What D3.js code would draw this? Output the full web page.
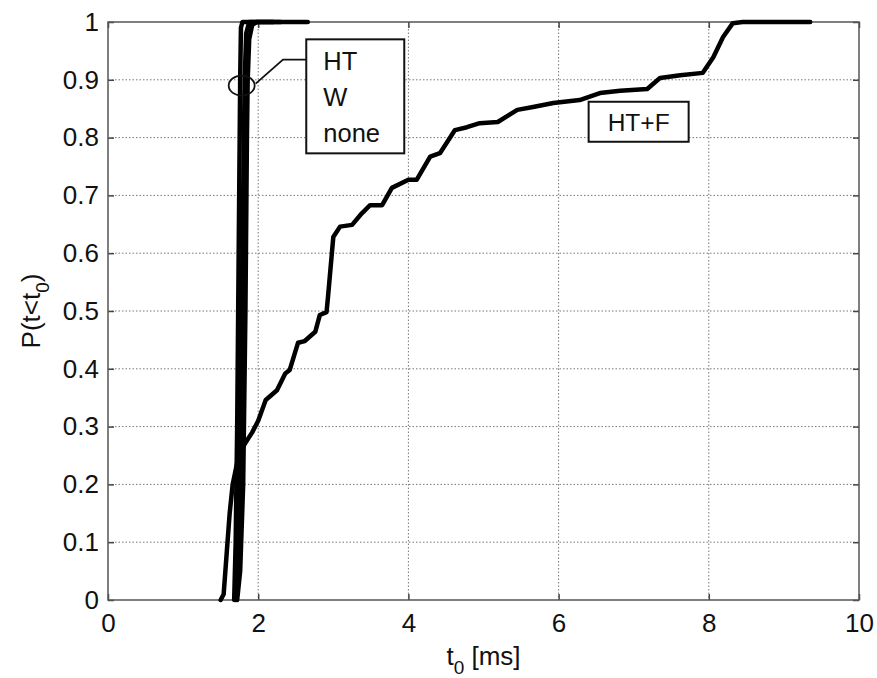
<!DOCTYPE html>
<html>
<head>
<meta charset="utf-8">
<script src="https://cdn.jsdelivr.net/npm/d3@7"></script>
<style>
  body { margin: 0; background: #fff; }
  svg text { font-family: "Liberation Sans", Arial, sans-serif; fill: #111; }
</style>
</head>
<body>
<svg id="chart" width="877" height="678"></svg>
<script>
// tick values
const xTicks = [0, 2, 4, 6, 8, 10];
const yTicks = [0, 0.1, 0.2, 0.3, 0.4, 0.5, 0.6, 0.7, 0.8, 0.9, 1];

// CDF curves, [t0 in ms, P]
const htf = [[1.50,0],[1.54,0.01],[1.58,0.08],[1.62,0.15],[1.66,0.2],[1.74,0.25],[1.82,0.27],[1.92,0.29],
  [2.0,0.31],[2.1,0.346],[2.25,0.363],[2.36,0.392],[2.42,0.398],[2.53,0.445],[2.62,0.448],[2.76,0.464],
  [2.82,0.493],[2.91,0.498],[2.93,0.525],[3.0,0.628],[3.09,0.646],[3.25,0.649],[3.38,0.669],[3.49,0.683],
  [3.65,0.683],[3.78,0.713],[4.0,0.727],[4.11,0.727],[4.29,0.767],[4.42,0.773],[4.62,0.813],[4.78,0.818],
  [4.95,0.825],[5.19,0.827],[5.45,0.848],[5.66,0.853],[5.93,0.86],[6.28,0.865],[6.55,0.877],[6.82,0.881],
  [7.18,0.884],[7.35,0.903],[7.62,0.908],[7.92,0.912],[8.06,0.939],[8.19,0.974],[8.32,0.998],[8.45,1.0],[9.35,1.0]];
const ht = [[1.68,0],[1.70,0.1],[1.72,0.3],[1.74,0.6],[1.76,0.9],[1.77,0.99],[1.79,1],[2.66,1]];
const w = [[1.70,0],[1.73,0.05],[1.75,0.2],[1.78,0.5],[1.81,0.8],[1.82,0.9],[1.84,0.98],[1.88,1],[2.3,1]];
const none = [[1.72,0],[1.76,0.05],[1.80,0.2],[1.83,0.5],[1.85,0.8],[1.86,0.9],[1.88,0.97],[1.92,0.995],[1.98,1],[2.2,1]];

const legendNames = ['HT', 'W', 'none'];
const htfLabel = 'HT+F';

const svg = d3.select('#chart');
const margin = { top: 22, right: 18, bottom: 78, left: 108 };
const width = 877 - margin.left - margin.right;
const height = 678 - margin.top - margin.bottom;

const x = d3.scaleLinear().domain([0, 10]).range([0, width]);
const y = d3.scaleLinear().domain([0, 1]).range([height, 0]);

const g = svg.append('g').attr('transform', `translate(${margin.left},${margin.top})`);

// grid
g.append('g').selectAll('line.gx').data(xTicks.slice(1, -1)).join('line')
  .attr('x1', d => x(d)).attr('x2', d => x(d)).attr('y1', 0).attr('y2', height)
  .attr('stroke', '#777').attr('stroke-width', 1).attr('stroke-dasharray', '1.5,2');
g.append('g').selectAll('line.gy').data(yTicks.slice(1, -1)).join('line')
  .attr('y1', d => y(d)).attr('y2', d => y(d)).attr('x1', 0).attr('x2', width)
  .attr('stroke', '#777').attr('stroke-width', 1).attr('stroke-dasharray', '1.5,2');

// axes with inward ticks
const fmt = d => d === 0 ? '0' : d === 1 ? '1' : d3.format('.1f')(d);
const xAxis = g.append('g').attr('transform', `translate(0,${height})`)
  .call(d3.axisBottom(x).tickValues(xTicks).tickSizeInner(-6).tickSizeOuter(0).tickPadding(14).tickFormat(d3.format('d')));
const yAxis = g.append('g')
  .call(d3.axisLeft(y).tickValues(yTicks).tickSizeInner(-6).tickSizeOuter(0).tickPadding(9).tickFormat(fmt));
const xTop = g.append('g').call(d3.axisTop(x).tickValues(xTicks).tickSizeInner(-6).tickSizeOuter(0).tickFormat(''));
const yRight = g.append('g').attr('transform', `translate(${width},0)`)
  .call(d3.axisRight(y).tickValues(yTicks).tickSizeInner(-6).tickSizeOuter(0).tickFormat(''));
[xAxis, yAxis, xTop, yRight].forEach(a => {
  a.select('.domain').remove();
  a.selectAll('line').attr('stroke', '#444').attr('stroke-width', 1.5);
  a.selectAll('text').style('font-size', '26px').attr('fill', '#111');
});

g.append('rect').attr('x', 0).attr('y', 0).attr('width', width).attr('height', height)
  .attr('fill', 'none').attr('stroke', '#555').attr('stroke-width', 1.5);

// curves
const line = d3.line().x(d => x(d[0])).y(d => y(d[1]));
[htf, ht, w, none].forEach(s => {
  g.append('path').datum(s).attr('d', line)
    .attr('fill', 'none').attr('stroke', '#000').attr('stroke-width', 4.5)
    .attr('stroke-linejoin', 'round').attr('stroke-linecap', 'round');
});

// annotation: ellipse + leader + legend box
const cx = x(1.78), cy = y(0.89);
g.append('ellipse').attr('cx', cx).attr('cy', cy).attr('rx', 13).attr('ry', 10)
  .attr('fill', 'none').attr('stroke', '#111').attr('stroke-width', 1.8);
g.append('path').attr('d', `M${cx + 14},${cy - 2} L${x(2.33)},${y(0.935)} L${x(2.64)},${y(0.935)}`)
  .attr('fill', 'none').attr('stroke', '#111').attr('stroke-width', 1.8);

const box = g.append('g').attr('transform', `translate(${x(2.64)},${y(0.97)})`);
box.append('rect').attr('width', 98).attr('height', 114)
  .attr('fill', '#fff').attr('stroke', '#111').attr('stroke-width', 2);
box.selectAll('text').data(legendNames).join('text')
  .attr('x', 17).attr('y', (d, i) => 31 + i * 36)
  .style('font-size', '25.5px').text(d => d);

const box2 = g.append('g').attr('transform', `translate(${x(6.4)},${y(0.862)})`);
box2.append('rect').attr('width', 100).attr('height', 40)
  .attr('fill', '#fff').attr('stroke', '#111').attr('stroke-width', 2);
box2.append('text').attr('x', 50).attr('y', 29).attr('text-anchor', 'middle')
  .style('font-size', '24.5px').text(htfLabel);

// axis labels
const xl = svg.append('text').attr('x', margin.left + width / 2).attr('y', 665)
  .attr('text-anchor', 'middle').style('font-size', '26px');
xl.append('tspan').text('t');
xl.append('tspan').attr('dy', 9).style('font-size', '19px').text('0');
xl.append('tspan').attr('dy', -9).text(' [ms]');

const yl = svg.append('text').attr('transform', `translate(40,${margin.top + height / 2}) rotate(-90)`)
  .attr('text-anchor', 'middle').style('font-size', '26px');
yl.append('tspan').text('P(t<t');
yl.append('tspan').attr('dy', 9).style('font-size', '19px').text('0');
yl.append('tspan').attr('dy', -9).text(')');
</script>
</body>
</html>
